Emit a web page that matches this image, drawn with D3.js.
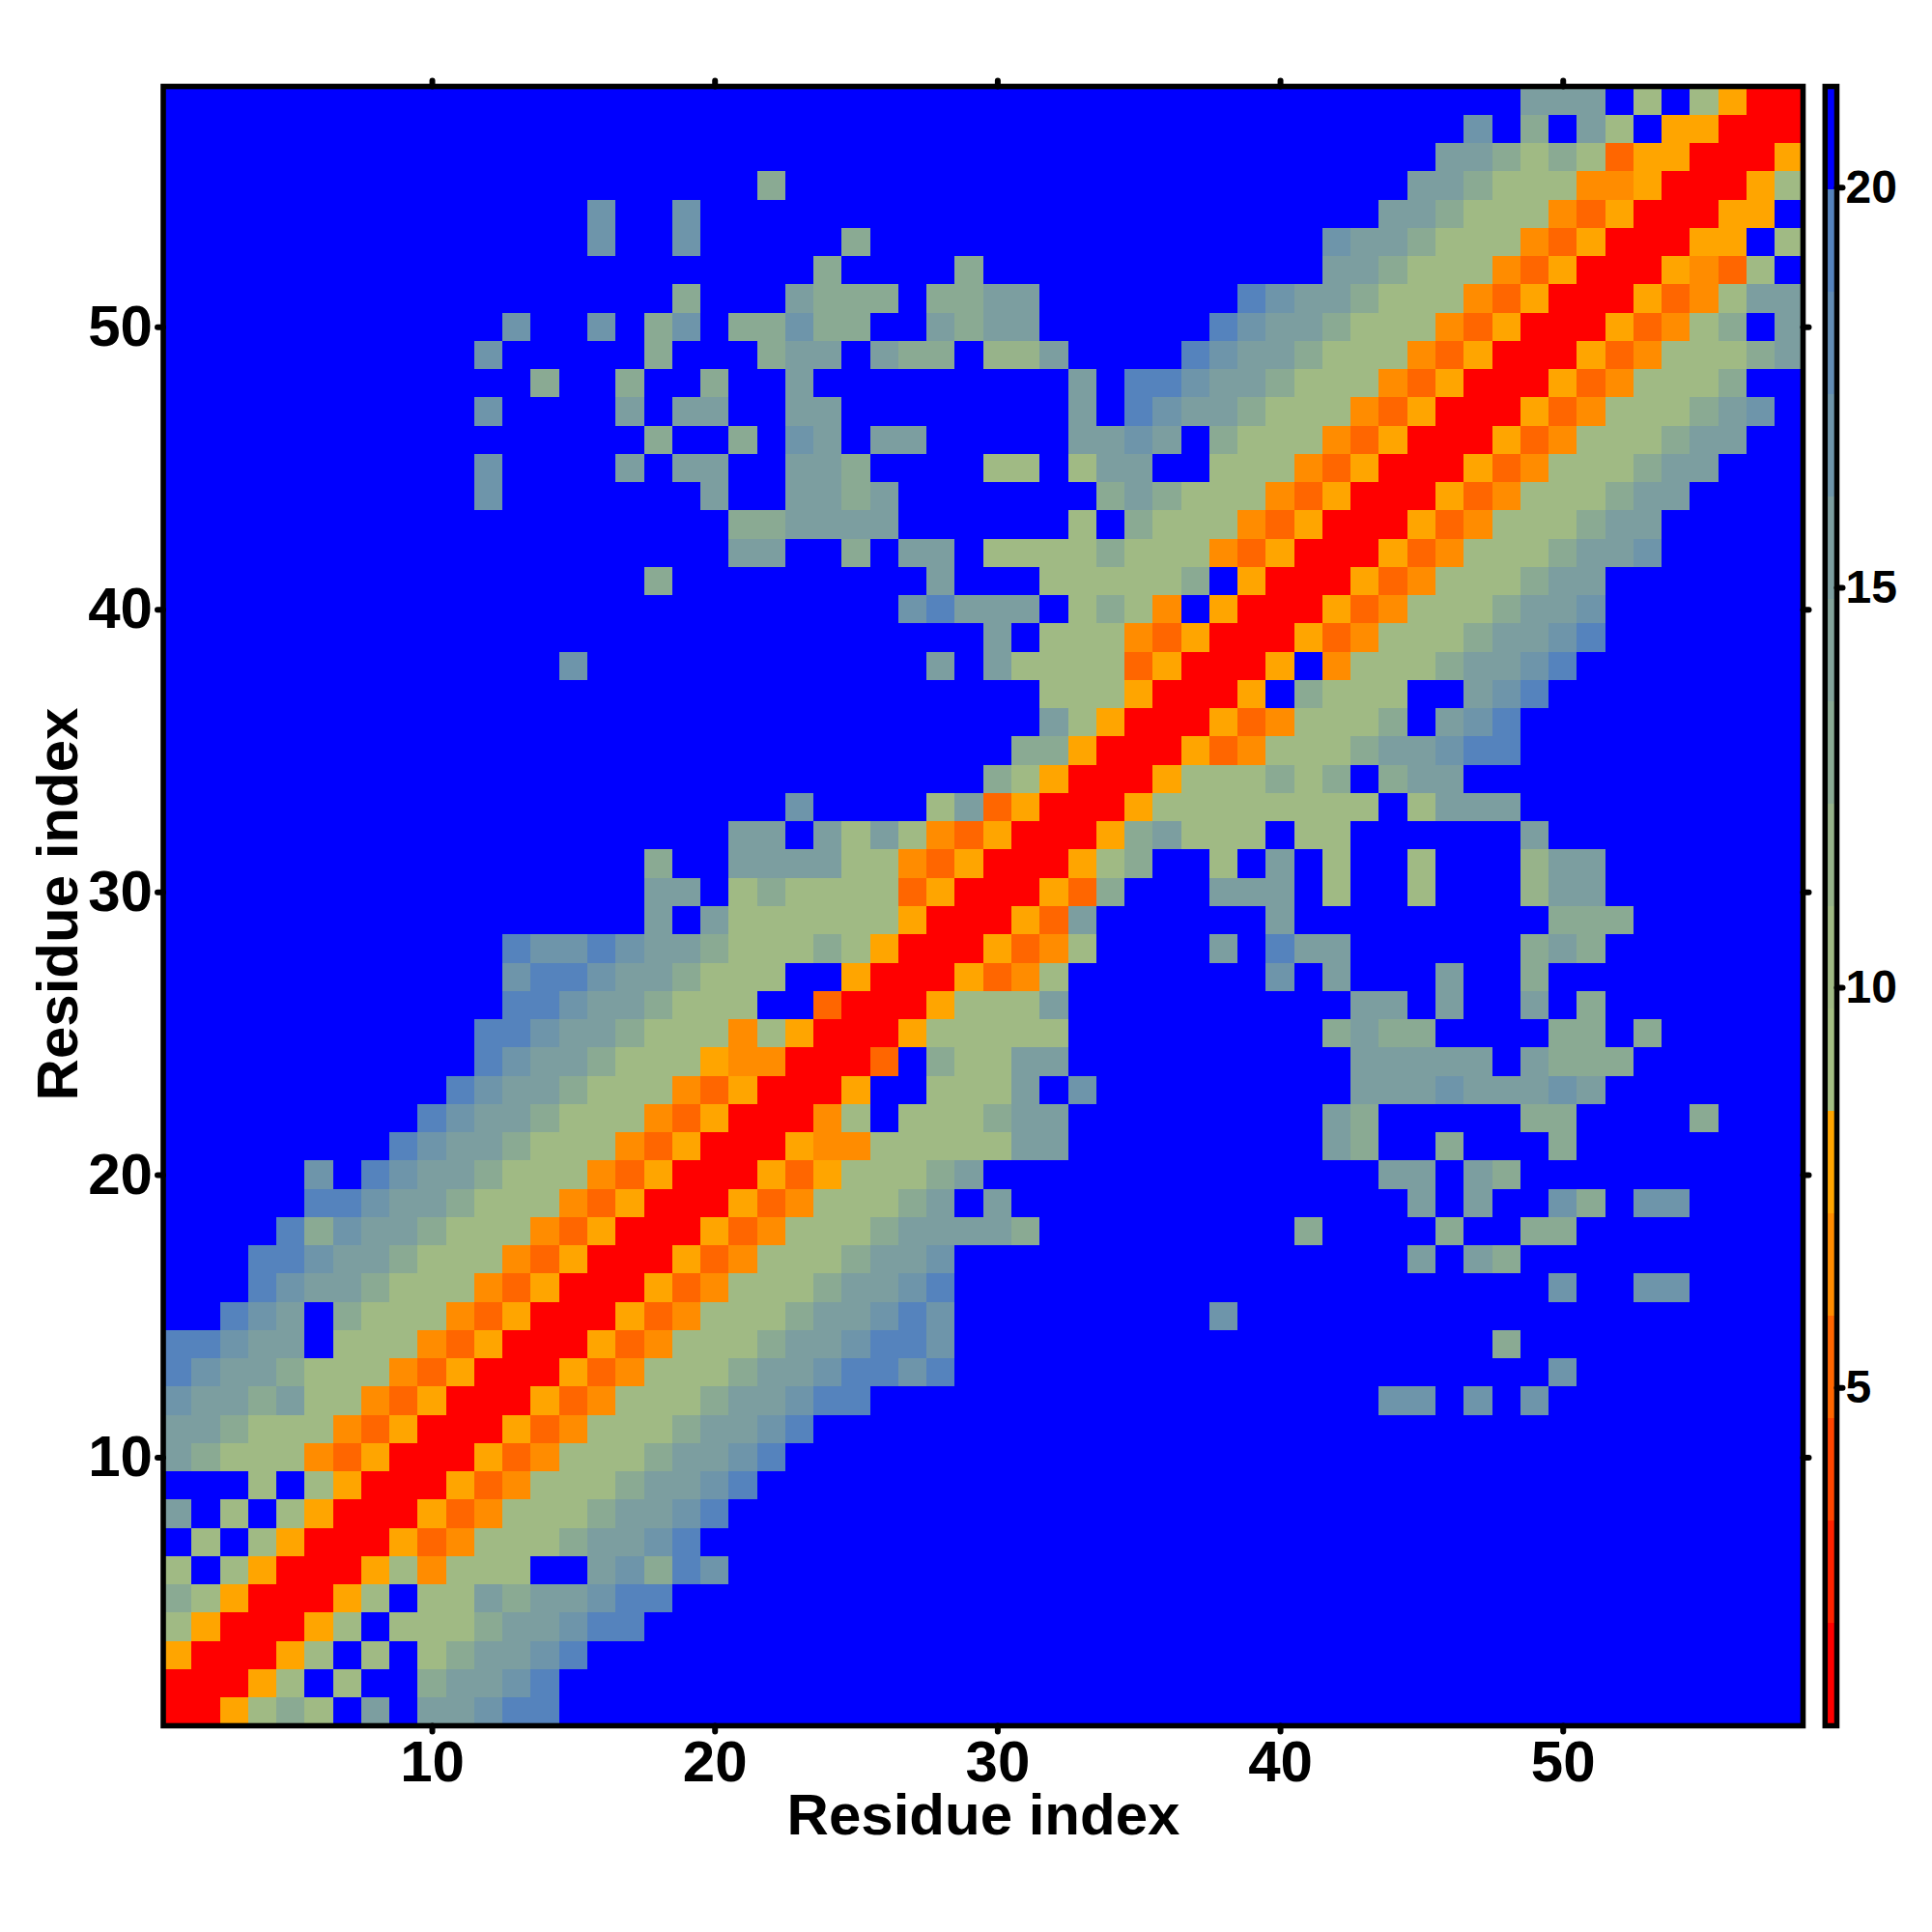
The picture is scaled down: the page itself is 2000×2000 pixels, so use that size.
<!DOCTYPE html>
<html><head><meta charset="utf-8">
<script src="https://cdn.jsdelivr.net/npm/d3@7/dist/d3.min.js"></script>
<style>html,body{margin:0;padding:0;background:#fff}svg{display:block}text{font-family:"Liberation Sans",Arial,sans-serif;font-weight:bold;fill:#000}</style>
</head><body><svg id="c" width="2000" height="2000"></svg>
<script>
// Lower triangle of the symmetric map: row y holds columns x=1..y (groups of ten).
// R,r,o,y = close contacts; a,f,b,c,d,e = rising distance; . = beyond cut-off
const rows = [
"R","RR","yRR","ayRR","bayRR","a.ayRR",".a.ayRR","c.a.ayRR","...a.ayRR",
"cbaaaoryRR",
"ccbaaaoryR R",
"dccbcaaory RR",
"edccbaaaor yRR",
"eedcc.aaao ryRR",
"..edc.baaa oryRR",
"...edccbaa aoryRR",
"...eedccba aaoryRR",
"....ebdccb aaaoryRR",
".....eedcc baaaoryRR",
".....d.edc cbaaaoryRR",
"........ed ccbaaaoryR R",
".........e dccbaaaory RR",
".......... edccbaaaor yRR",
".......... .edccbaaay ooRR",
".......... .eedccbaaa oayRR",
".......... ..eedccbaa a..rRR",
".......... ..deedccba aa..yRR",
".......... ..eddedccb aaabayRR",
".......... .......c.c aaaaaayRR",
".......... .......cc. abaaaaryRR",
".......... .......b.. ccccaaoryR R",
".......... .......... cc.cacaory RR",
".......... .......... ..d....acr yRR",
".......... .......... .........b ayRR",
".......... .......... .......... bbyRR",
".......... .......... .......... .cayRR",
".......... .......... .......... .aaayRR",
".......... ....d..... .......c.c aaaaryRR",
".......... .......... .........c .aaaoryRR",
".......... .......... ......decc c.abao.yRR",
".......... .......b.. .......c.. .aaaaab.yR R",
".......... .......... cc..b.cc.a aaabaaaory RR",
".......... .......... bbcccc.... ..a.baaaor yRR",
".......... .d.......c ..ccbc.... ...bcbaaao ryRR",
".......... .d....c.cc ..ccb....a a.acc..aaa oryRR",
".......... .......b.. b.dc.cc... ..ccdc.baa aoryRR",
".......... .d....c.cc ..cc...... ..c.edccba aaoryRR",
".......... ...b..b..b ..c....... ..c.eedccb aaaoryRR",
".......... .d.....b.. .bcc.cbb.f fc....edcc baaaoryRR",
".......... ..d..d.bd. bbdbb..cbc c......edc cbaaaoryRR",
".......... ........b. ..cbbb.bbc c.......ed ccbaaaoryR R",
".......... .......... ...b....b. .......... .ccbaaaory RR",
".......... .....d..d. ....b..... .......... .dccbaaaor yRR",
".......... .....d..d. .......... .......... ...ccbaaao ryRR",
".......... .......... .b........ .......... ....ccbaaa ooyRR",
".......... .......... .......... .......... .....ccbab aryyRR",
".......... .......... .......... .......... ......d.b. ca.yyRR",
".......... .......... .......... .......... ........cc c.a.ayRR"
];
// representative distance (Å) read for each code
const codeValues = {R:1.5,r:5.2,o:6.5,y:7.8,a:10.3,f:11.6,b:12.9,c:15.5,d:17.1,e:19.3,".":21};
const colorStops = [0.77,2.05,3.33,4.61,5.89,7.17,8.45,9.73,11.01,12.29,13.58,14.86,16.14,17.42,18.7,19.98,21.26];
const colors = ["#ff0000","#ff2200","#ff4500","#ff6600","#ff8c00","#ffa500","#a4be82","#a0ba84","#97b38a","#8aaa93","#83a39a","#7c9ea0","#6e95aa","#628cb4","#5583bd","#0000ff"];
const axisTicks = [10,20,30,40,50];
const barTicks = [5,10,15,20];
const xTitle = "Residue index", yTitle = "Residue index";

const svg = d3.select("#c");
const n = rows.length;
const x = d3.scaleLinear().domain([0.5,n+0.5]).range([169,1866.5]);
const y = d3.scaleLinear().domain([0.5,n+0.5]).range([1786.5,89.5]);
const col = d3.scaleThreshold().domain(colorStops.slice(1,-1)).range(colors);

const cells=[];
rows.forEach((s,i)=>{const t=s.replace(/ /g,"");
  [...t].forEach((ch,j)=>{const v=codeValues[ch];
    cells.push({x:j+1,y:i+1,v}); if(i!==j) cells.push({x:i+1,y:j+1,v});});});
svg.append("g").selectAll("rect").data(cells).join("rect")
  .attr("x",d=>x(d.x-.5)).attr("width",d=>x(d.x+.5)-x(d.x-.5))
  .attr("y",d=>y(d.y+.5)).attr("height",d=>y(d.y-.5)-y(d.y+.5))
  .attr("fill",d=>col(d.v)).attr("shape-rendering","crispEdges");

function style(g,fs){
  g.select(".domain").remove();
  g.selectAll("line").attr("stroke","#000").attr("stroke-width",6).attr("stroke-linecap","round");
  g.selectAll("text").attr("font-size",fs);
}
svg.append("g").attr("transform","translate(0,1786.5)")
  .call(d3.axisBottom(x).tickValues(axisTicks).tickSize(6).tickPadding(9)).call(style,60);
svg.append("g").attr("transform","translate(0,89.5)")
  .call(d3.axisTop(x).tickValues(axisTicks).tickSize(6).tickFormat("")).call(style,60);
svg.append("g").attr("transform","translate(169,0)")
  .call(d3.axisLeft(y).tickValues(axisTicks).tickSize(6).tickPadding(5)).call(style,60);
svg.append("g").attr("transform","translate(1866.5,0)")
  .call(d3.axisRight(y).tickValues(axisTicks).tickSize(6).tickFormat("")).call(style,60);
svg.append("rect").attr("x",169).attr("y",89.5).attr("width",1697.5).attr("height",1697)
  .attr("fill","none").attr("stroke","#000").attr("stroke-width",5.6);

svg.append("text").attr("x",1018).attr("y",1899).attr("text-anchor","middle").attr("font-size",60).text(xTitle);
svg.append("text").attr("transform","translate(80,936) rotate(-90)").attr("text-anchor","middle").attr("font-size",60).text(yTitle);

// colour bar
const b = d3.scaleLinear().domain([0.77,21.26]).range([1786.5,89.5]);
const barX=1889.3, barW=12.2;
svg.append("g").selectAll("rect").data(colors).join("rect")
  .attr("x",barX).attr("width",barW)
  .attr("y",(d,i)=>b(colorStops[i+1])).attr("height",(d,i)=>b(colorStops[i])-b(colorStops[i+1]))
  .attr("fill",d=>d).attr("shape-rendering","crispEdges");
svg.append("rect").attr("x",barX).attr("y",89.5).attr("width",barW).attr("height",1697)
  .attr("fill","none").attr("stroke","#000").attr("stroke-width",5.5);
svg.append("g").attr("transform",`translate(${barX+barW},0)`)
  .call(d3.axisRight(b).tickValues(barTicks).tickSize(6).tickPadding(3)).call(style,48);
</script></body></html>
